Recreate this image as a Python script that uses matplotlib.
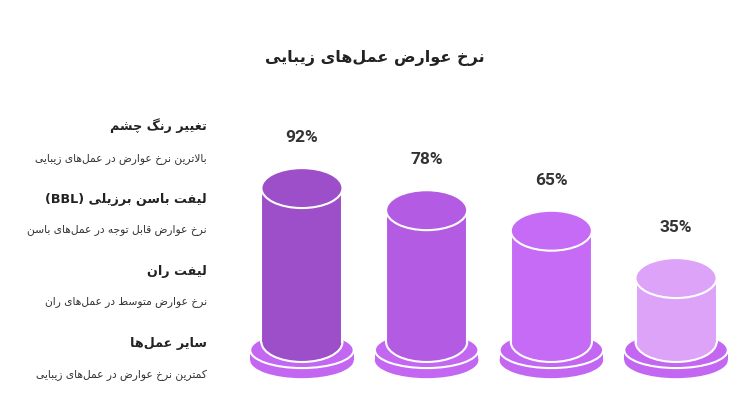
import matplotlib
matplotlib.use("Agg")
import re
import matplotlib.pyplot as plt
from matplotlib.patches import Ellipse, Rectangle

# ── data ───────────────────────────────────────────────────────────────────────
title = "نرخ عوارض عمل‌های زیبایی"
procedures = ["تغییر رنگ چشم", "لیفت باسن برزیلی (BBL)", "لیفت ران", "سایر عمل‌ها"]
notes = ["بالاترین نرخ عوارض در عمل‌های زیبایی",
         "نرخ عوارض قابل توجه در عمل‌های باسن",
         "نرخ عوارض متوسط در عمل‌های ران",
         "کمترین نرخ عوارض در عمل‌های زیبایی"]
rates = [92, 78, 65, 35]
bar_colors = ["#9c4fc8", "#b35be3", "#c56bf6", "#dda3f9"]
base_color = "#c366f2"

# ── tiny Persian shaper (no arabic_reshaper available) ────────────────────────
# isolated, final, initial, medial
FORMS = {
    'ا': (0xFE8D, 0xFE8E, None, None), 'آ': (0xFE81, 0xFE82, None, None),
    'ب': (0xFE8F, 0xFE90, 0xFE91, 0xFE92), 'پ': (0xFB56, 0xFB57, 0xFB58, 0xFB59),
    'ت': (0xFE95, 0xFE96, 0xFE97, 0xFE98), 'ث': (0xFE99, 0xFE9A, 0xFE9B, 0xFE9C),
    'ج': (0xFE9D, 0xFE9E, 0xFE9F, 0xFEA0), 'چ': (0xFB7A, 0xFB7B, 0xFB7C, 0xFB7D),
    'ح': (0xFEA1, 0xFEA2, 0xFEA3, 0xFEA4), 'خ': (0xFEA5, 0xFEA6, 0xFEA7, 0xFEA8),
    'د': (0xFEA9, 0xFEAA, None, None), 'ذ': (0xFEAB, 0xFEAC, None, None),
    'ر': (0xFEAD, 0xFEAE, None, None), 'ز': (0xFEAF, 0xFEB0, None, None),
    'ژ': (0xFB8A, 0xFB8B, None, None),
    'س': (0xFEB1, 0xFEB2, 0xFEB3, 0xFEB4), 'ش': (0xFEB5, 0xFEB6, 0xFEB7, 0xFEB8),
    'ص': (0xFEB9, 0xFEBA, 0xFEBB, 0xFEBC), 'ض': (0xFEBD, 0xFEBE, 0xFEBF, 0xFEC0),
    'ط': (0xFEC1, 0xFEC2, 0xFEC3, 0xFEC4), 'ظ': (0xFEC5, 0xFEC6, 0xFEC7, 0xFEC8),
    'ع': (0xFEC9, 0xFECA, 0xFECB, 0xFECC), 'غ': (0xFECD, 0xFECE, 0xFECF, 0xFED0),
    'ف': (0xFED1, 0xFED2, 0xFED3, 0xFED4), 'ق': (0xFED5, 0xFED6, 0xFED7, 0xFED8),
    'ک': (0xFB8E, 0xFB8F, 0xFB90, 0xFB91), 'گ': (0xFB92, 0xFB93, 0xFB94, 0xFB95),
    'ل': (0xFEDD, 0xFEDE, 0xFEDF, 0xFEE0), 'م': (0xFEE1, 0xFEE2, 0xFEE3, 0xFEE4),
    'ن': (0xFEE5, 0xFEE6, 0xFEE7, 0xFEE8), 'و': (0xFEED, 0xFEEE, None, None),
    'ه': (0xFEE9, 0xFEEA, 0xFEEB, 0xFEEC), 'ی': (0xFBFC, 0xFBFD, 0xFBFE, 0xFBFF),
}


def shape(text):
    chars = list(text)
    out = []
    i = 0
    while i < len(chars):
        c = chars[i]
        if c == '\u200c':
            i += 1
            continue
        if c not in FORMS:
            out.append(c)
            i += 1
            continue
        prev = chars[i - 1] if i > 0 else None
        joins_prev = prev in FORMS and FORMS[prev][2] is not None
        # lam-alef ligature
        if c == 'ل' and i + 1 < len(chars) and chars[i + 1] in ('ا', 'آ'):
            if chars[i + 1] == 'ا':
                out.append(chr(0xFEFC if joins_prev else 0xFEFB))
            else:
                out.append(chr(0xFEF6 if joins_prev else 0xFEF5))
            i += 2
            continue
        nxt = chars[i + 1] if i + 1 < len(chars) else None
        joins_next = FORMS[c][2] is not None and nxt in FORMS
        iso, fin, ini, med = FORMS[c]
        if joins_prev and joins_next:
            code = med
        elif joins_prev:
            code = fin
        elif joins_next:
            code = ini
        else:
            code = iso
        out.append(chr(code))
        i += 1
    # visual order: reverse, then restore left-to-right runs
    vis = ''.join(out)[::-1]
    vis = re.sub(r'[A-Za-z0-9%.]+', lambda m: m.group(0)[::-1], vis)
    vis = vis.translate(str.maketrans('()', ')('))
    return vis


# ── figure ────────────────────────────────────────────────────────────────────
W, H = 750, 408
fig = plt.figure(figsize=(W / 100, H / 100), dpi=100)
fig.patch.set_facecolor("white")

fa_font = "DejaVu Sans"
fig.text(375 / W, 1 - 58 / H, shape(title), ha="center", va="center",
         fontsize=11.5, fontweight="bold", family=fa_font, color="#222222")

head_y = [126, 199, 272, 344]
note_y = [159, 230, 302, 375]
for name, note, hy, ny in zip(procedures, notes, head_y, note_y):
    fig.text(207 / W, 1 - hy / H, shape(name), ha="right", va="center",
             fontsize=9.2, fontweight="bold", family=fa_font, color="#222222")
    fig.text(207 / W, 1 - ny / H, shape(note), ha="right", va="center",
             fontsize=7.7, family=fa_font, color="#333333")

# cylinder axes: 1 category = 124.7 px, 1 value unit = 1.579 px
ax = fig.add_axes([239.6 / W, 27.3 / H, 498.8 / W, 268.4 / H])
ax.set_xlim(-0.5, 3.5)
ax.set_ylim(-30, 140)
ax.axis("off")

y0 = -5.5          # cylinder bottom
body_w = 0.65
cap_h = 25.3
base_w = 0.83
base_h = 22.8
base_top, base_bot = -10.6, -17.0

for i, (v, col) in enumerate(zip(rates, bar_colors)):
    # base disk
    ax.add_patch(Ellipse((i, base_bot), base_w, base_h, facecolor=base_color,
                         edgecolor="none", zorder=1))
    ax.add_patch(Rectangle((i - base_w / 2, base_bot), base_w, base_top - base_bot,
                           facecolor=base_color, edgecolor="none", zorder=1))
    ax.add_patch(Ellipse((i, base_top), base_w, base_h, facecolor=base_color,
                         edgecolor="white", lw=1.5, zorder=2))
    # body
    ax.add_patch(Ellipse((i, y0), body_w, cap_h, facecolor=col,
                         edgecolor="white", lw=1.5, zorder=3))
    ax.add_patch(Rectangle((i - body_w / 2, y0), body_w, v - y0,
                           facecolor=col, edgecolor="none", zorder=4))
    ax.plot([i - body_w / 2, i - body_w / 2], [y0, v], color="white", lw=1.5, zorder=5)
    ax.plot([i + body_w / 2, i + body_w / 2], [y0, v], color="white", lw=1.5, zorder=5)
    ax.add_patch(Ellipse((i, v), body_w, cap_h, facecolor=col,
                         edgecolor="white", lw=1.5, zorder=6))
    ax.text(i, v + 32, f"{v}%", ha="center", va="center", fontsize=12.5,
            fontweight="bold", family="Roboto", color="#333333", zorder=7)

plt.savefig("out.png", dpi=100, facecolor="white")
